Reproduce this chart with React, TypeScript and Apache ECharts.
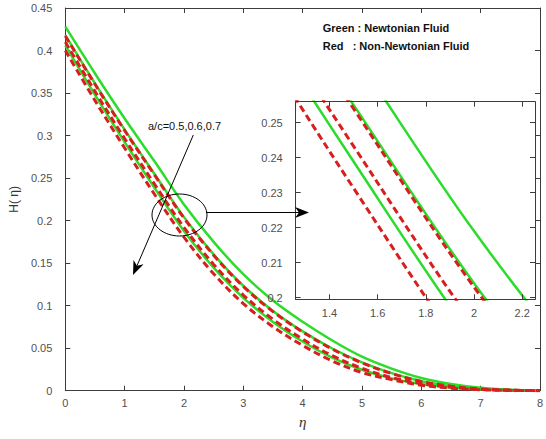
import React, { useEffect, useRef } from "react";
import * as echarts from "echarts";

// η sample points
const eta = [0, 0.5, 1, 1.5, 2, 2.5, 3, 3.5, 4, 4.5, 5, 5.5, 6, 6.5, 7, 7.5, 8];

// Newtonian fluid (green, solid), a/c = 0.5, 0.6, 0.7
const newtonianAc05 = [0.428, 0.373, 0.32, 0.27, 0.219, 0.175, 0.137, 0.106, 0.081, 0.059, 0.04, 0.026, 0.015, 0.008, 0.0035, 0.0012, 0];
const newtonianAc06 = [0.418, 0.3613, 0.307, 0.2551, 0.2041, 0.1603, 0.1234, 0.0938, 0.0698, 0.0496, 0.0332, 0.0206, 0.0112, 0.0054, 0.0021, 0.0006, 0];
const newtonianAc07 = [0.406, 0.3479, 0.2923, 0.2389, 0.1879, 0.1447, 0.1091, 0.0809, 0.0579, 0.0389, 0.0246, 0.0145, 0.0078, 0.0037, 0.0015, 0.0005, 0];

// Non-Newtonian fluid (red, dashed), a/c = 0.5, 0.6, 0.7
const nonNewtonianAc05 = [0.417, 0.3603, 0.3059, 0.254, 0.203, 0.1593, 0.1225, 0.093, 0.0691, 0.0489, 0.0327, 0.0201, 0.0109, 0.0052, 0.002, 0.0006, 0];
const nonNewtonianAc06 = [0.41, 0.352, 0.2965, 0.2433, 0.1921, 0.1485, 0.1125, 0.084, 0.0607, 0.0412, 0.0263, 0.0155, 0.0083, 0.004, 0.0016, 0.0005, 0];
const nonNewtonianAc07 = [0.4, 0.3413, 0.2853, 0.2313, 0.1805, 0.1375, 0.1025, 0.0752, 0.0532, 0.035, 0.0214, 0.013, 0.0065, 0.003, 0.0012, 0.0004, 0];

// Inset (zoom) tick values
const insetXTicks = [1.4, 1.6, 1.8, 2.0, 2.2];
const insetYTicks = [0.2, 0.21, 0.22, 0.23, 0.24, 0.25];

const legendGreen = "Green : Newtonian Fluid";
const legendRed = "Red   : Non-Newtonian Fluid";
const paramLabel = "a/c=0.5,0.6,0.7";

export default function App() {
  const ref = useRef<HTMLDivElement>(null);

  useEffect(() => {
    const chart = echarts.init(ref.current!, null, { renderer: "svg" });
    const pairs = (ys: number[]) => eta.map((x, i) => [x, ys[i]]);
    const fmt = (v: number) => String(parseFloat(Number(v).toFixed(3)));
    const axisColor = "#3c3c3c";
    const labelColor = "#505050";
    const green = "#2bdc2b";
    const red = "#d81e1e";
    const font = "Liberation Sans, Arial, sans-serif";

    const lineAxis = (extra: any) => ({
      type: "value",
      splitLine: { show: false },
      axisLine: { show: true, onZero: false, lineStyle: { color: axisColor, width: 1 } },
      axisTick: { show: true, inside: true, length: 5, lineStyle: { color: axisColor } },
      axisLabel: { show: false },
      ...extra,
    });

    const greens = [newtonianAc05, newtonianAc06, newtonianAc07];
    const reds = [nonNewtonianAc05, nonNewtonianAc06, nonNewtonianAc07];

    const makeSeries = (gridAxis: number, z: number) => {
      const out: any[] = [];
      greens.forEach((ys, i) =>
        out.push({
          type: "line",
          name: "Newtonian a/c=" + [0.5, 0.6, 0.7][i],
          xAxisIndex: gridAxis,
          yAxisIndex: gridAxis,
          data: pairs(ys),
          showSymbol: false,
          smooth: 0.35,
          clip: true,
          z,
          lineStyle: { color: green, width: 2.5 },
        })
      );
      reds.forEach((ys, i) =>
        out.push({
          type: "line",
          name: "Non-Newtonian a/c=" + [0.5, 0.6, 0.7][i],
          xAxisIndex: gridAxis,
          yAxisIndex: gridAxis,
          data: pairs(ys),
          showSymbol: false,
          smooth: 0.35,
          clip: true,
          z: z + 0.5,
          lineStyle: { color: red, width: 3, type: [7, 4], cap: "butt" },
        })
      );
      return out;
    };

    // main arrow geometry (pixel annotations)
    const tip = [133, 275];
    const start = [193.3, 135];
    const dx = tip[0] - start[0];
    const dy = tip[1] - start[1];
    const len = Math.hypot(dx, dy);
    const ux = dx / len;
    const uy = dy / len;
    const px = -uy;
    const py = ux;
    const back = [tip[0] - 14 * ux, tip[1] - 14 * uy];
    const notch = [tip[0] - 10 * ux, tip[1] - 10 * uy];

    const option: any = {
      animation: false,
      backgroundColor: "#fff",
      textStyle: { fontFamily: font },
      grid: [
        { left: 60, top: 8, width: 483, height: 382.7, show: false },
        {
          left: 295.7,
          top: 101.7,
          width: 239.3,
          height: 197.6,
          show: true,
          backgroundColor: "#fff",
          borderWidth: 0,
          z: 10,
        },
      ],
      xAxis: [
        lineAxis({
          gridIndex: 0,
          position: "bottom",
          min: 0,
          max: 8,
          interval: 1,
          axisLabel: { show: true, color: labelColor, fontSize: 11, margin: 7, formatter: fmt },
          name: "η",
          nameLocation: "middle",
          nameGap: 24,
          nameTextStyle: { fontSize: 15, fontStyle: "italic", fontFamily: "Liberation Serif, serif", color: "#333" },
        }),
        lineAxis({ gridIndex: 0, position: "top", min: 0, max: 8, interval: 1 }),
        lineAxis({
          gridIndex: 1,
          position: "bottom",
          min: 1.26,
          max: 2.253,
          z: 12,
          axisTick: { show: true, inside: true, length: 5, lineStyle: { color: axisColor }, customValues: insetXTicks },
          axisLabel: { show: true, color: labelColor, fontSize: 11, margin: 8, formatter: fmt, customValues: insetXTicks },
        }),
        lineAxis({
          gridIndex: 1,
          position: "top",
          min: 1.26,
          max: 2.253,
          z: 12,
          axisTick: { show: true, inside: true, length: 5, lineStyle: { color: axisColor }, customValues: insetXTicks },
        }),
      ],
      yAxis: [
        lineAxis({
          gridIndex: 0,
          position: "left",
          min: 0,
          max: 0.45,
          interval: 0.05,
          axisLabel: { show: true, color: labelColor, fontSize: 11, margin: 13, formatter: fmt },
          name: "H( η)",
          nameLocation: "middle",
          nameGap: 41,
          nameRotate: 90,
          nameTextStyle: { fontSize: 12, color: "#333" },
        }),
        lineAxis({ gridIndex: 0, position: "right", min: 0, max: 0.45, interval: 0.05 }),
        lineAxis({
          gridIndex: 1,
          position: "left",
          min: 0.1995,
          max: 0.256,
          z: 12,
          axisTick: { show: true, inside: true, length: 5, lineStyle: { color: axisColor }, customValues: insetYTicks },
          axisLabel: { show: true, color: labelColor, fontSize: 11, margin: 13, formatter: fmt, customValues: insetYTicks },
        }),
        lineAxis({
          gridIndex: 1,
          position: "right",
          min: 0.1995,
          max: 0.256,
          z: 12,
          axisTick: { show: true, inside: true, length: 5, lineStyle: { color: axisColor }, customValues: insetYTicks },
        }),
      ],
      series: [...makeSeries(0, 2), ...makeSeries(2, 11)],
      graphic: [
        {
          type: "text",
          z: 100,
          style: {
            text: legendGreen,
            x: 322.7,
            y: 27.7,
            fill: "#111",
            fontSize: 11,
            fontWeight: "bold",
            fontFamily: font,
            textAlign: "left",
            align: "left",
            textVerticalAlign: "middle",
            verticalAlign: "middle",
          },
        },
        {
          type: "text",
          z: 100,
          style: {
            text: legendRed,
            x: 322.7,
            y: 46,
            fill: "#111",
            fontSize: 11,
            fontWeight: "bold",
            fontFamily: font,
            textAlign: "left",
            align: "left",
            textVerticalAlign: "middle",
            verticalAlign: "middle",
          },
        },
        {
          type: "text",
          z: 100,
          style: {
            text: paramLabel,
            x: 148,
            y: 126,
            fill: "#111",
            fontSize: 11,
            fontFamily: font,
            textAlign: "left",
            align: "left",
            textVerticalAlign: "middle",
            verticalAlign: "middle",
          },
        },
        {
          type: "line",
          z: 100,
          shape: { x1: start[0], y1: start[1], x2: notch[0], y2: notch[1] },
          style: { stroke: "#000", lineWidth: 1 },
        },
        {
          type: "polygon",
          z: 100,
          shape: {
            points: [
              tip,
              [back[0] + 5.5 * px, back[1] + 5.5 * py],
              notch,
              [back[0] - 5.5 * px, back[1] - 5.5 * py],
            ],
          },
          style: { fill: "#000" },
        },
        {
          type: "ellipse",
          z: 100,
          shape: { cx: 179.5, cy: 215, rx: 27.5, ry: 21 },
          style: { fill: "none", stroke: "#000", lineWidth: 1 },
        },
        {
          type: "line",
          z: 100,
          shape: { x1: 206, y1: 212.5, x2: 299, y2: 212.5 },
          style: { stroke: "#000", lineWidth: 1 },
        },
        {
          type: "polygon",
          z: 100,
          shape: {
            points: [
              [309, 212.5],
              [295, 207],
              [299, 212.5],
              [295, 218],
            ],
          },
          style: { fill: "#000" },
        },
      ],
    };

    chart.setOption(option);
    return () => chart.dispose();
  }, []);

  return (
    <div
      ref={ref}
      style={{ position: "fixed", left: 0, top: 0, width: 546, height: 439, background: "#fff" }}
    />
  );
}
